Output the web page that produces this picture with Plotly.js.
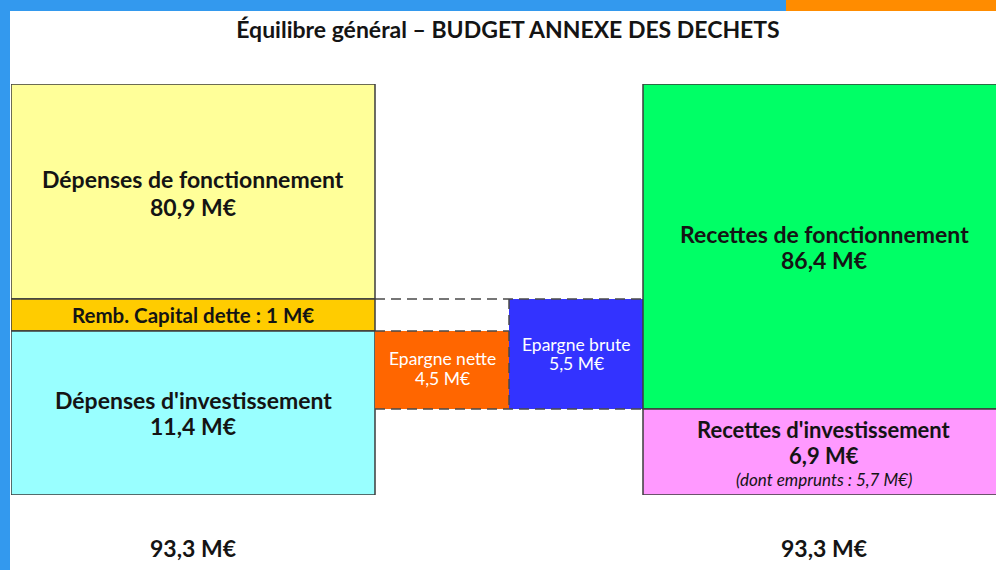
<!DOCTYPE html>
<html>
<head>
<meta charset="utf-8">
<script src="https://cdn.plot.ly/plotly-3.0.1.min.js"></script>
<style>
  html, body { margin: 0; padding: 0; background: #ffffff; }
  #wrap { position: relative; width: 996px; height: 570px; overflow: hidden; }
  #chart { position: absolute; left: 0; top: 0; width: 996px; height: 570px; }
  .bar { position: absolute; pointer-events: none; z-index: 5; }
</style>
</head>
<body>
<div id="wrap">
  <div id="chart"></div>
  <div class="bar" style="left:0;top:0;width:786px;height:11px;background:#3399ee;"></div>
  <div class="bar" style="left:786px;top:0;width:210px;height:11px;background:#ff8c00;"></div>
  <div class="bar" style="left:0;top:0;width:10px;height:570px;background:#3399ee;"></div>
</div>
<script>
// ---- Data (M€) ----
const chartTitle = "Équilibre général – BUDGET ANNEXE DES DECHETS";
const categories = [
  "Dépenses de fonctionnement",
  "Remb. Capital dette",
  "Dépenses d'investissement",
  "Epargne nette",
  "Epargne brute",
  "Recettes de fonctionnement",
  "Recettes d'investissement"
];
const values = [80.9, 1, 11.4, 4.5, 5.5, 86.4, 6.9];
const dontEmprunts = 5.7;
const totalDepenses = 93.3;
const totalRecettes = 93.3;

// ---- Schematic layout (the original diagram is not to scale) ----
const blockUnits = [215, 32, 164, 78, 110, 325, 86];   // drawn height of each block
const blockColumn = [0, 0, 0, 1, 2, 3, 3];
const columnUnits = [364, 134, 134, 362];
const colors = ["#ffff99", "#ffcc00", "#99ffff", "#ff6600", "#3333ff", "#00ff66", "#ff99ff"];
const dashedBlocks = [3, 4];

const fmt = v => (Number.isInteger(v) ? String(v) : v.toFixed(1).replace('.', ',')) + " M€";

// column edges
const colLeft = [];
let acc = 0;
columnUnits.forEach(w => { colLeft.push(acc); acc += w; });
const colCenter = columnUnits.map((w, i) => colLeft[i] + w / 2);

// bases: columns 0 and 3 stack from bottom (listed top to bottom); savings sit on top of "Recettes d'investissement"
const base = new Array(values.length).fill(0);
[0, 3].forEach(c => {
  const idx = blockColumn.map((cc, i) => cc === c ? i : -1).filter(i => i >= 0).reverse();
  let b = 0;
  idx.forEach(i => { base[i] = b; b += blockUnits[i]; });
});
base[3] = blockUnits[6];
base[4] = blockUnits[6];
const blockTop = values.map((v, i) => base[i] + blockUnits[i]);
const fullHeight = blockTop[0];

const txt = "#141414";
const FONT = "Lato, 'Open Sans', sans-serif";

const blocks = {
  type: "bar",
  x: blockColumn.map(c => colCenter[c]),
  width: blockColumn.map(c => columnUnits[c]),
  base: base,
  y: blockUnits,
  marker: {
    color: colors,
    line: {
      color: "#3d3d3d",
      width: values.map((v, i) => dashedBlocks.includes(i) ? 0 : 1.5)
    }
  },
  hovertext: categories.map((c, i) => c + " : " + fmt(values[i])),
  hoverinfo: "text",
  showlegend: false
};

// dashed outlines of the savings blocks
const xL = colLeft[1], xM = colLeft[2], xR = colLeft[3];
const dashed = {
  type: "scatter", mode: "lines",
  x: [xL, xR, null, xL, xM, null, xM, xM, null, xL, xR],
  y: [blockTop[4], blockTop[4], null, blockTop[3], blockTop[3], null, blockTop[4], base[4], null, base[3], base[3]],
  line: { color: "#4a4a4a", width: 1.5, dash: "10px,6px" },
  hoverinfo: "skip", showlegend: false
};

const mid = i => base[i] + blockUnits[i] / 2;
const ann = [];
const big = { family: FONT, size: 23, color: txt };
const pinkFont = { family: FONT, size: 22, color: txt };
const small = { family: FONT, size: 17.5, color: "#ffffff" };
// lines: [text, font, yshift(px, up positive)]
function label(x, y, lines) {
  lines.forEach(l => ann.push({ x: x, y: y, text: l[0], font: l[1], yshift: l[2] }));
}
label(colCenter[0], mid(0), [["<b>" + categories[0] + "</b>", big, 13], ["<b>" + fmt(values[0]) + "</b>", big, -15]]);
label(colCenter[0], mid(1), [["<b>" + categories[1] + " : " + fmt(values[1]) + "</b>", { family: FONT, size: 20.5, color: txt }, 0]]);
label(colCenter[0], mid(2), [["<b>" + categories[2] + "</b>", big, 13], ["<b>" + fmt(values[2]) + "</b>", big, -13]]);
label(colCenter[1], mid(3), [[categories[3], small, 12], [fmt(values[3]), small, -8]]);
label(colCenter[2], mid(4), [[categories[4], small, 10], [fmt(values[4]), small, -9]]);
label(colCenter[3], mid(5), [["<b>" + categories[5] + "</b>", big, 13], ["<b>" + fmt(values[5]) + "</b>", big, -13]]);
label(colCenter[3], mid(6), [["<b>" + categories[6] + "</b>", pinkFont, 23], ["<b>" + fmt(values[6]) + "</b>", pinkFont, -3],
  ["<i>(dont emprunts : " + fmt(dontEmprunts) + ")</i>", { family: FONT, size: 17, color: txt }, -27]]);
label(colCenter[0], 0, [["<b>" + fmt(totalDepenses) + "</b>", big, -53]]);
label(colCenter[3], 0, [["<b>" + fmt(totalRecettes) + "</b>", big, -53]]);
ann.forEach(a => { a.xref = "x"; a.yref = "y"; a.showarrow = false; a.xanchor = "center"; a.yanchor = "middle"; });

const layout = {
  width: 996, height: 570,
  margin: { l: 11, r: 0, t: 84, b: 75, pad: 0 },
  paper_bgcolor: "#ffffff",
  plot_bgcolor: "rgba(0,0,0,0)",
  barmode: "overlay",
  title: {
    text: "<b>" + chartTitle + "</b>",
    font: { family: FONT, size: 23, color: txt },
    xref: "container", yref: "container",
    x: 508 / 996, xanchor: "center",
    y: 1 - 30 / 570, yanchor: "middle"
  },
  xaxis: { range: [0, 985], visible: false, fixedrange: true },
  yaxis: { range: [0, fullHeight], visible: false, fixedrange: true },
  annotations: ann,
  showlegend: false
};

Plotly.newPlot("chart", [blocks, dashed], layout, { displayModeBar: false, staticPlot: true });
</script>
</body>
</html>
